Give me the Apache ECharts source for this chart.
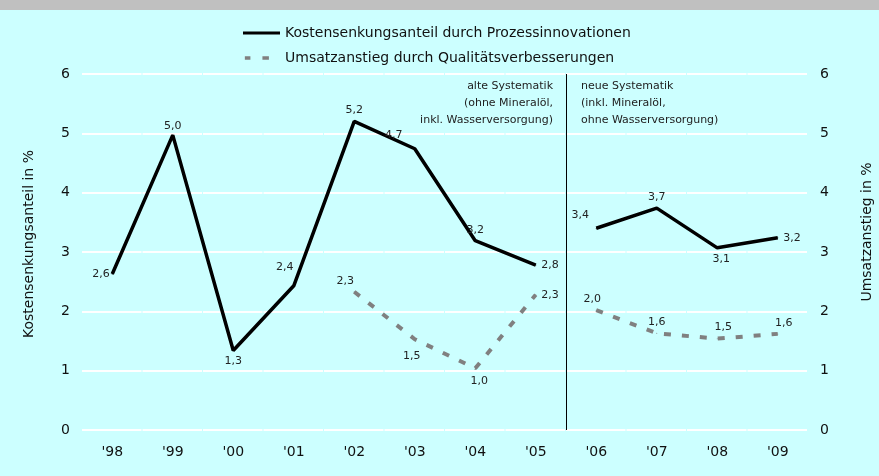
<!DOCTYPE html>
<html>
<head>
<meta charset="utf-8">
<script src="https://cdn.jsdelivr.net/npm/echarts@6/dist/echarts.min.js"></script>
<style>
html,body{margin:0;padding:0;background:#ccffff;}
#main{width:879px;height:476px;}
</style>
</head>
<body>
<div id="main"></div>
<script>
// Jahre und Werte
var years = ["'98", "'99", "'00", "'01", "'02", "'03", "'04", "'05", "'06", "'07", "'08", "'09"];
var kosten = [2.63, 4.97, 1.34, 2.43, 5.2, 4.74, 3.19, 2.78, 3.4, 3.74, 3.07, 3.24];
var umsatz = [null, null, null, null, 2.33, 1.53, 1.04, 2.28, 2.02, 1.63, 1.54, 1.62];
var yTicks = [0, 1, 2, 3, 4, 5, 6];
var nameKosten = 'Kostensenkungsanteil durch Prozessinnovationen';
var nameUmsatz = 'Umsatzanstieg durch Qualitätsverbesserungen';
var breakAt = 8; // ab '06 neue Systematik

// label placement (style only): position + pixel offset
var labKosten = [
    ['left', [3, 0]], ['top', [0, 2]], ['bottom', [0, 0]], ['top', [-9, -8]],
    ['top', [0, 0]], ['top', [-21, -3]], ['top', [0, 0]], ['right', [0, 0]],
    ['top', [-16, -2]], ['top', [0, 0]], ['bottom', [4, 0]], ['right', [0, 0]]
];
var labUmsatz = [
    null, null, null, null,
    ['top', [-9, 0]], ['bottom', [-3, 6]], ['bottom', [4, 2]], ['right', [0, 0]],
    ['top', [-4, 0]], ['top', [0, 0]], ['top', [6, 0]], ['top', [6, 0]]
];

var font = 'DejaVu Sans';

function fmt(v){
    return v.toFixed(1).replace('.', ',');
}

function part(values, labs, newPart){
    var out = [];
    for (var i = 0; i < values.length; i++) {
        var inside = newPart ? i >= breakAt : i < breakAt;
        if (!inside || values[i] == null) {
            out.push('-');
            continue;
        }
        out.push({value: values[i], label: {position: labs[i][0], offset: labs[i][1]}});
    }
    return out;
}

var dom = document.getElementById('main');
var myChart = echarts.init(dom);

function lineSeries(name, values, labs, newPart, color, type, width, axis){
    return {
        name: name,
        type: 'line',
        yAxisIndex: axis,
        symbol: 'circle',
        symbolSize: 1,
        showSymbol: true,
        connectNulls: false,
        animation: false,
        lineStyle: {color: color, width: width, type: type},
        itemStyle: {color: color},
        label: {
            show: true,
            color: '#222',
            fontFamily: font,
            fontSize: 11,
            distance: 5,
            formatter: function(p){ return fmt(p.value); }
        },
        data: part(values, labs, newPart)
    };
}

var option = {
    backgroundColor: '#ccffff',
    textStyle: {fontFamily: font},
    graphic: [
        {type: 'rect', left: 0, top: 0, shape: {width: 879, height: 10}, style: {fill: '#c0c0c0'}},
        {type: 'text', x: 553, y: 78, style: {
            text: 'alte Systematik\n(ohne Mineralöl,\ninkl. Wasserversorgung)',
            fill: '#222', font: '11px "DejaVu Sans"', lineHeight: 17, align: 'right'}},
        {type: 'text', x: 581, y: 78, style: {
            text: 'neue Systematik\n(inkl. Mineralöl,\nohne Wasserversorgung)',
            fill: '#222', font: '11px "DejaVu Sans"', lineHeight: 17, align: 'left'}}
    ],
    legend: {
        orient: 'vertical',
        left: 243,
        top: 26,
        padding: 0,
        itemWidth: 37,
        itemHeight: 14,
        itemGap: 11,
        itemStyle: {borderWidth: 0},
        textStyle: {color: '#111', fontSize: 14, fontFamily: font},
        data: [
            {name: nameKosten, icon: 'path://M0,0H40V3H0Z'},
            {name: nameUmsatz, icon: 'path://M0,0H0V0ZM2,0H8V4H2ZM21,0H28V4H21ZM40,0H40V0Z'}
        ]
    },
    grid: {left: 82, right: 71, top: 74, bottom: 46, outerBoundsMode: 'none'},
    xAxis: [
        {
            type: 'category',
            data: years,
            boundaryGap: true,
            axisLine: {show: false},
            axisTick: {show: false},
            axisLabel: {color: '#111', fontSize: 14, margin: 15}
        },
        {
            type: 'value',
            min: -0.5,
            max: 11.5,
            show: false
        }
    ],
    yAxis: [
        {
            type: 'value',
            min: 0, max: 6, interval: 1,
            name: 'Kostensenkungsanteil in %',
            nameLocation: 'middle',
            nameRotate: 90,
            nameGap: 46,
            nameTextStyle: {color: '#111', fontSize: 14, padding: [0, 0, 0, 16]},
            axisLine: {show: false},
            axisTick: {show: false},
            axisLabel: {color: '#111', fontSize: 14, margin: 12,
                formatter: function(v){ return yTicks.indexOf(v) > -1 ? String(v) : ''; }},
            splitLine: {lineStyle: {color: '#ffffff', width: 2, type: [59.5, 1]}}
        },
        {
            type: 'value',
            min: 0, max: 6, interval: 1,
            position: 'right',
            name: 'Umsatzanstieg in %',
            nameLocation: 'middle',
            nameRotate: 90,
            nameGap: 52,
            nameTextStyle: {color: '#111', fontSize: 14, padding: [0, 0, 0, 40]},
            axisLine: {show: false},
            axisTick: {show: false},
            axisLabel: {color: '#111', fontSize: 14, margin: 12},
            splitLine: {show: false}
        }
    ],
    series: [
        lineSeries(nameKosten, kosten, labKosten, false, '#000000', 'solid', 3.5, 0),
        lineSeries(nameKosten, kosten, labKosten, true, '#000000', 'solid', 3.5, 0),
        lineSeries(nameUmsatz, umsatz, labUmsatz, false, '#808080', [7, 11], 4, 1),
        lineSeries(nameUmsatz, umsatz, labUmsatz, true, '#808080', [7, 11], 4, 1),
        {
            type: 'line',
            xAxisIndex: 1,
            data: [],
            markLine: {
                silent: true,
                symbol: 'none',
                label: {show: false},
                lineStyle: {color: '#000', width: 1, type: 'solid'},
                data: [{xAxis: 7.5}]
            }
        }
    ]
};

if (option && typeof option === "object") {
    myChart.setOption(option, true);
}
</script>
</body>
</html>
